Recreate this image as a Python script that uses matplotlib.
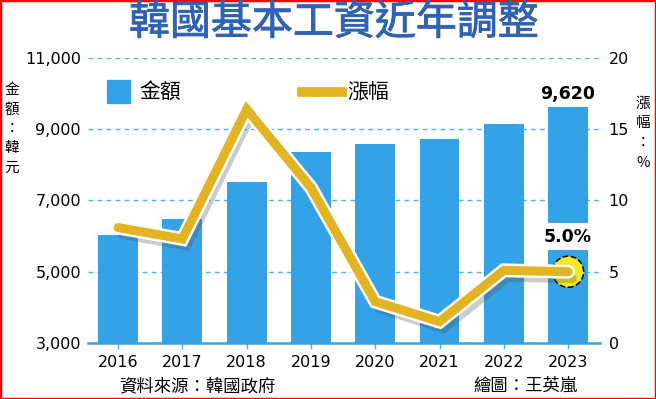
import numpy as np
import matplotlib.pyplot as plt
import matplotlib.patheffects as pe
from matplotlib.patches import Rectangle

plt.rcParams['font.family'] = ['Noto Sans CJK TC', 'DejaVu Sans']

years = ['2016', '2017', '2018', '2019', '2020', '2021', '2022', '2023']
wage = [6030, 6470, 7530, 8350, 8590, 8720, 9160, 9620]
growth = [8.1, 7.3, 16.4, 10.9, 2.9, 1.5, 5.1, 5.0]
left_ticks = [3000, 5000, 7000, 9000, 11000]
left_labels = ['3,000', '5,000', '7,000', '9,000', '11,000']
right_ticks = [0, 5, 10, 15, 20]

bar_color = '#34A2E6'
line_color = '#E2B423'
grid_color = '#4FB0EC'
title_color = '#2F62B2'

fig = plt.figure(figsize=(6.56, 3.99), dpi=100)
ax = fig.add_axes([0.134, 0.1404, 0.781, 0.7142])
x = np.arange(len(years))

ax.bar(x, np.array(wage) - 3000, bottom=3000, width=0.62, color=bar_color, zorder=2)
ax.set_xlim(-0.47, 7.5)
ax.set_ylim(3000, 11000)
ax.set_yticks(left_ticks)
ax.set_yticklabels(left_labels, fontsize=11.5, family='DejaVu Sans')
ax.set_axisbelow(True)
ax.yaxis.grid(True, color=grid_color, linestyle=(0, (3.5, 3)), linewidth=1.0)
ax.tick_params(axis='y', length=0, pad=5)
ax.set_xticks(x)
ax.set_xticklabels(years, fontsize=11.5, family='DejaVu Sans')
ax.tick_params(axis='x', length=4, width=1, color=grid_color, pad=5)
for s in ['left', 'right', 'top']:
    ax.spines[s].set_visible(False)
ax.spines['bottom'].set_color('#3BA3E0')
ax.spines['bottom'].set_linewidth(1.8)

ax.text(7, 9620 + 110, '9,620', ha='center', va='bottom', fontsize=12.5,
        fontweight='bold', family='DejaVu Sans', zorder=5)

ax2 = ax.twinx()
ax2.set_ylim(0, 20)
ax2.set_yticks(right_ticks)
ax2.set_yticklabels([str(t) for t in right_ticks], fontsize=11.5, family='DejaVu Sans')
ax2.tick_params(axis='y', length=0, pad=6)
for s in ['left', 'right', 'top', 'bottom']:
    ax2.spines[s].set_visible(False)

ax2.scatter([7], [growth[-1]], s=500, color='#F6E81C', edgecolors='black',
            linewidths=1.1, linestyles='--', zorder=2.5)
ax2.plot(x, growth, color=line_color, linewidth=6.5, solid_joinstyle='miter',
         solid_capstyle='round', zorder=3,
         path_effects=[pe.SimpleLineShadow(offset=(3, -5), shadow_color='#555555', alpha=0.3),
                       pe.Stroke(linewidth=10, foreground='white'), pe.Normal()])
ax2.text(7, 7.45, '5.0%', ha='center', va='center', fontsize=12.5, fontweight='bold',
         family='DejaVu Sans', zorder=5,
         bbox=dict(boxstyle='square,pad=0.25', fc='white', ec='none'))

# legend
fig.patches.append(Rectangle((107 / 656, 1 - 103 / 399), 23 / 656, 23 / 399,
                             transform=fig.transFigure, color=bar_color))
fig.text(139 / 656, 1 - 92 / 399, '金額', fontsize=15, va='center')
fig.lines.append(plt.Line2D([302 / 656, 342 / 656], [1 - 92 / 399, 1 - 92 / 399],
                            transform=fig.transFigure, color=line_color, linewidth=7))
fig.text(347 / 656, 1 - 92 / 399, '漲幅', fontsize=15, va='center')

fig.text(334 / 656, 1 - 23 / 399, '韓國基本工資近年調整', ha='center', va='center',
         fontsize=29.5, color=title_color,
         path_effects=[pe.withStroke(linewidth=0.6, foreground=title_color)])

for i, ch in enumerate('金額：韓元'):
    fig.text(12 / 656, 1 - (90 + i * 19.5) / 399, ch, ha='center', va='center', fontsize=10.5)
for i, ch in enumerate('漲幅：%'):
    fig.text(643 / 656, 1 - (104 + i * 19.5) / 399, ch, ha='center', va='center', fontsize=10.5)

fig.text(197 / 656, 1 - 386 / 399, '資料來源：韓國政府', ha='center', va='center', fontsize=12.5)
fig.text(526 / 656, 1 - 386 / 399, '繪圖：王英嵐', ha='center', va='center', fontsize=12.5)

fig.patches.append(Rectangle((0, 0), 1, 1, transform=fig.transFigure, fill=False,
                             edgecolor='red', linewidth=2.5))

fig.savefig('out.png', dpi=100)
